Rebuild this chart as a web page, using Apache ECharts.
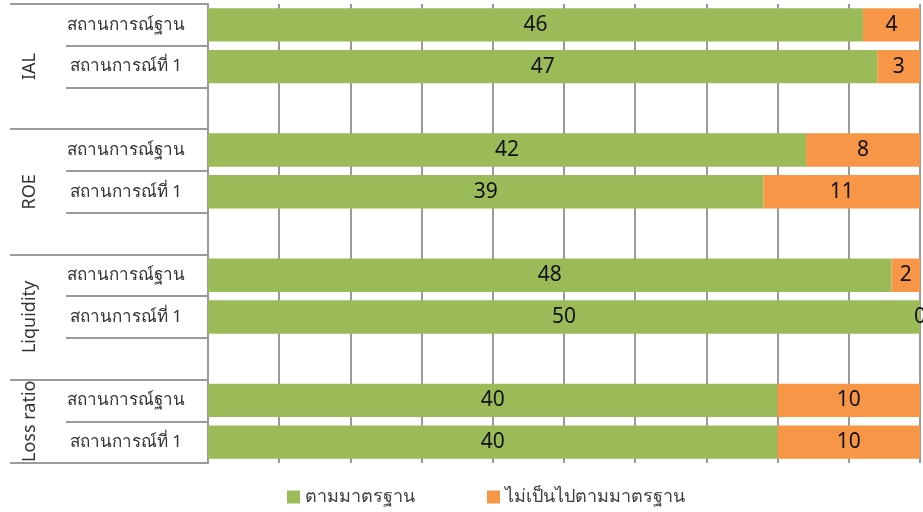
<!DOCTYPE html>
<html>
<head>
<meta charset="utf-8">
<script src="https://cdn.jsdelivr.net/npm/echarts@6/dist/echarts.min.js"></script>
<style>
  html, body { margin: 0; padding: 0; background: #fff; }
  #contain { width: 923px; height: 512px; }
</style>
</head>
<body>
<div id="contain"></div>
<script>
var groups = ['IAL', 'ROE', 'Liquidity', 'Loss ratio'];
var scenarios = ['สถานการณ์ฐาน', 'สถานการณ์ที่ 1'];
var seriesNames = ['ตามมาตรฐาน', 'ไม่เป็นไปตามมาตรฐาน'];
// ค่าของแต่ละกลุ่ม [ฐาน, ที่ 1]
var meetStd = [[46, 47], [42, 39], [48, 50], [40, 40]];
var failStd = [[4, 3], [8, 11], [2, 0], [10, 10]];
var xTicks = [0, 5, 10, 15, 20, 25, 30, 35, 40, 45, 50];

// สร้างแถว ใส่แถวว่างระหว่างกลุ่ม
var rows = [], greenData = [], orangeData = [];
var groupBounds = [], groupCenters = [];
groups.forEach(function (g, gi) {
    var start = rows.length;
    groupBounds.push(start);
    scenarios.forEach(function (s, si) {
        rows.push(s);
        greenData.push(meetStd[gi][si]);
        orangeData.push(failStd[gi][si]);
    });
    groupCenters.push(start + scenarios.length / 2 + (gi < groups.length - 1 ? 0.5 : 0));
    if (gi < groups.length - 1) {
        rows.push('');
        greenData.push('-');
        orangeData.push('-');
    }
});
groupBounds.push(rows.length);

var font = '"Noto Sans", "Open Sans", sans-serif';
var lineGray = '#9a9a9a';

var myChart = echarts.init(document.getElementById('contain'));
var option = {
    animation: false,
    textStyle: { fontFamily: font },
    grid: {
        left: 208, right: 3, top: 4, bottom: 49,
        containLabel: false,
        outerBoundsMode: 'none'
    },
    legend: {
        left: 282,
        top: 483,
        icon: 'rect',
        itemWidth: 13,
        itemHeight: 13,
        itemGap: 72,
        textStyle: { fontSize: 18, color: '#404040', fontFamily: font },
        data: seriesNames
    },
    xAxis: {
        type: 'value',
        min: xTicks[0],
        max: xTicks[xTicks.length - 1],
        interval: xTicks[1] - xTicks[0],
        axisLabel: { show: false },
        axisTick: { show: false },
        axisLine: { show: false },
        splitLine: { show: true, lineStyle: { color: lineGray, width: 2 } }
    },
    yAxis: [
        {
            type: 'category',
            inverse: true,
            position: 'left',
            data: rows,
            axisLine: { show: true, lineStyle: { color: lineGray, width: 2 } },
            axisTick: { show: true, interval: 0, length: 142, lineStyle: { color: lineGray, width: 2 } },
            axisLabel: {
                interval: 0,
                margin: 82,
                align: 'center',
                fontSize: 17,
                color: '#333'
            }
        },
        {
            type: 'value',
            inverse: true,
            position: 'left',
            offset: 0,
            min: 0,
            max: rows.length,
            splitLine: { show: false },
            axisLine: { show: false },
            axisTick: {
                show: true,
                customValues: groupBounds,
                length: 198,
                lineStyle: { color: lineGray, width: 2 }
            },
            axisLabel: {
                show: true,
                customValues: groupCenters,
                hideOverlap: false,
                rotate: 90,
                margin: 178,
                verticalAlign: 'middle',
                fontSize: 18,
                color: '#333',
                formatter: function (v) {
                    var k = groupCenters.indexOf(Number(v));
                    return k >= 0 ? groups[k] : '';
                }
            }
        }
    ],
    series: [
        {
            name: seriesNames[0],
            type: 'bar',
            stack: 'total',
            barCategoryGap: '20%',
            itemStyle: { color: '#9BBB59' },
            label: { show: true, position: 'inside', fontSize: 21, color: '#111' },
            data: greenData
        },
        {
            name: seriesNames[1],
            type: 'bar',
            stack: 'total',
            barCategoryGap: '20%',
            itemStyle: { color: '#F79646' },
            label: { show: true, position: 'inside', fontSize: 21, color: '#111' },
            data: orangeData
        }
    ]
};
myChart.setOption(option);
</script>
</body>
</html>
